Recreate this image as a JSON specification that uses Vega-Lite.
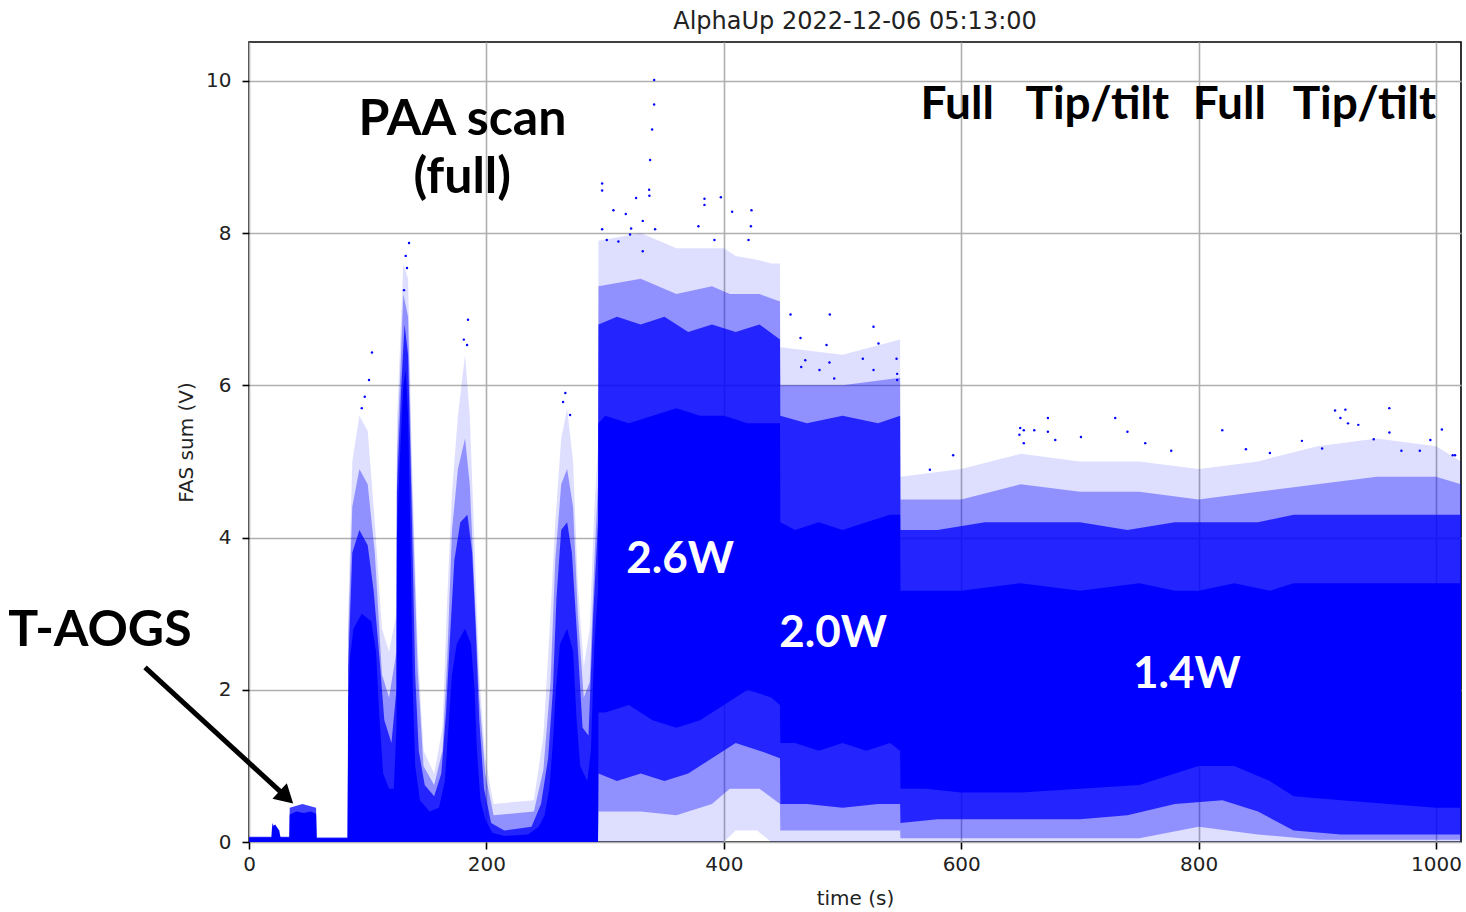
{
  "$schema": "https://vega.github.io/schema/vega-lite/v6.json",
  "width": 1212,
  "height": 800,
  "autosize": {"type": "none"},
  "padding": {"left": 249, "top": 42, "right": 5, "bottom": 70},
  "background": "white",
  "title": {
    "text": "AlphaUp 2022-12-06 05:13:00",
    "font": "DejaVu Sans",
    "fontSize": 24,
    "fontWeight": "normal",
    "color": "#222222",
    "anchor": "middle",
    "baseline": "alphabetic",
    "offset": 13,
    "dy": 24
  },
  "config": {
    "view": {"stroke": "black", "strokeWidth": 1.6},
    "axis": {
      "labelFont": "DejaVu Sans",
      "labelFontSize": 20,
      "labelColor": "#222222",
      "titleFont": "DejaVu Sans",
      "titleFontSize": 20,
      "titleFontWeight": "normal",
      "titleColor": "#222222",
      "gridColor": "#b0b0b0",
      "gridWidth": 1.6,
      "gridOpacity": 1,
      "tickColor": "black",
      "tickWidth": 1.6,
      "tickSize": 7,
      "domain": false,
      "labelFlush": false
    }
  },
  "datasets": {
    "faint": [
      {"t": 83.6, "lo": 0, "hi": 3.0},
      {"t": 87, "lo": 0, "hi": 5.0},
      {"t": 93, "lo": 0, "hi": 5.6},
      {"t": 100, "lo": 0, "hi": 5.4},
      {"t": 106, "lo": 0, "hi": 4.2},
      {"t": 112, "lo": 0, "hi": 2.8},
      {"t": 118, "lo": 0, "hi": 2.5},
      {"t": 124.2, "lo": 0, "hi": 3.0},
      {"t": 124.6, "lo": 0, "hi": 5.5},
      {"t": 130, "lo": 0, "hi": 7.6},
      {"t": 134, "lo": 0, "hi": 7.4},
      {"t": 137, "lo": 0, "hi": 5.2},
      {"t": 142, "lo": 0, "hi": 2.6},
      {"t": 147, "lo": 0, "hi": 1.2},
      {"t": 156, "lo": 0, "hi": 0.9},
      {"t": 163, "lo": 0, "hi": 1.5},
      {"t": 167, "lo": 0, "hi": 3.2},
      {"t": 171, "lo": 0, "hi": 4.6},
      {"t": 176, "lo": 0, "hi": 5.6},
      {"t": 182, "lo": 0, "hi": 6.4},
      {"t": 186, "lo": 0, "hi": 5.6},
      {"t": 190, "lo": 0, "hi": 3.9},
      {"t": 194, "lo": 0, "hi": 2.2},
      {"t": 199, "lo": 0, "hi": 1.1},
      {"t": 206, "lo": 0, "hi": 0.5},
      {"t": 240, "lo": 0, "hi": 0.55},
      {"t": 248, "lo": 0, "hi": 1.4},
      {"t": 254, "lo": 0, "hi": 3.0},
      {"t": 258, "lo": 0, "hi": 4.2},
      {"t": 263, "lo": 0, "hi": 5.3},
      {"t": 268, "lo": 0, "hi": 5.7},
      {"t": 273, "lo": 0, "hi": 5.0},
      {"t": 277, "lo": 0, "hi": 3.4},
      {"t": 282, "lo": 0, "hi": 2.3},
      {"t": 287, "lo": 0, "hi": 2.8},
      {"t": 291, "lo": 0, "hi": 4.4},
      {"t": 294, "lo": 0, "hi": 5.2},
      {"t": 294.4, "lo": 0, "hi": 7.9},
      {"t": 330, "lo": 0, "hi": 8.0},
      {"t": 360, "lo": 0, "hi": 7.8},
      {"t": 400, "lo": 0, "hi": 7.8},
      {"t": 410, "lo": 0.15, "hi": 7.7},
      {"t": 428, "lo": 0.15, "hi": 7.65},
      {"t": 440, "lo": 0, "hi": 7.6},
      {"t": 447.3, "lo": 0, "hi": 7.6},
      {"t": 447.6, "lo": 0, "hi": 6.5},
      {"t": 500, "lo": 0, "hi": 6.4},
      {"t": 548.5, "lo": 0, "hi": 6.6},
      {"t": 548.8, "lo": 0, "hi": 4.8},
      {"t": 600, "lo": 0, "hi": 4.9},
      {"t": 650, "lo": 0, "hi": 5.1},
      {"t": 700, "lo": 0, "hi": 5.0},
      {"t": 750, "lo": 0, "hi": 5.0},
      {"t": 800, "lo": 0, "hi": 4.9},
      {"t": 850, "lo": 0, "hi": 5.0},
      {"t": 900, "lo": 0, "hi": 5.2},
      {"t": 950, "lo": 0, "hi": 5.3},
      {"t": 1000, "lo": 0, "hi": 5.2},
      {"t": 1021, "lo": 0, "hi": 5.0}
    ],
    "mid": [
      {"t": 83.6, "lo": 0, "hi": 2.7},
      {"t": 87, "lo": 0, "hi": 4.4},
      {"t": 93, "lo": 0, "hi": 4.9},
      {"t": 100, "lo": 0, "hi": 4.7},
      {"t": 106, "lo": 0, "hi": 3.8},
      {"t": 112, "lo": 0, "hi": 2.2},
      {"t": 118, "lo": 0, "hi": 1.9},
      {"t": 124.2, "lo": 0, "hi": 2.5},
      {"t": 124.6, "lo": 0, "hi": 5.0},
      {"t": 130, "lo": 0, "hi": 7.2},
      {"t": 134, "lo": 0, "hi": 6.9},
      {"t": 137, "lo": 0, "hi": 4.8},
      {"t": 142, "lo": 0, "hi": 2.3},
      {"t": 147, "lo": 0, "hi": 1.0},
      {"t": 156, "lo": 0, "hi": 0.75},
      {"t": 163, "lo": 0, "hi": 1.2},
      {"t": 167, "lo": 0, "hi": 2.4},
      {"t": 171, "lo": 0, "hi": 4.1},
      {"t": 176, "lo": 0, "hi": 4.9},
      {"t": 182, "lo": 0, "hi": 5.3},
      {"t": 186, "lo": 0, "hi": 4.7},
      {"t": 190, "lo": 0, "hi": 3.3},
      {"t": 194, "lo": 0, "hi": 1.9},
      {"t": 199, "lo": 0, "hi": 0.9},
      {"t": 206, "lo": 0, "hi": 0.35},
      {"t": 240, "lo": 0, "hi": 0.4},
      {"t": 248, "lo": 0, "hi": 0.95},
      {"t": 254, "lo": 0, "hi": 2.1},
      {"t": 258, "lo": 0, "hi": 3.7},
      {"t": 263, "lo": 0, "hi": 4.7},
      {"t": 268, "lo": 0, "hi": 4.9},
      {"t": 273, "lo": 0, "hi": 4.4},
      {"t": 277, "lo": 0, "hi": 3.0},
      {"t": 282, "lo": 0, "hi": 1.9},
      {"t": 287, "lo": 0, "hi": 2.1},
      {"t": 291, "lo": 0, "hi": 3.7},
      {"t": 294, "lo": 0, "hi": 4.7},
      {"t": 294.4, "lo": 0.4, "hi": 7.3},
      {"t": 330, "lo": 0.4, "hi": 7.4},
      {"t": 360, "lo": 0.35, "hi": 7.2},
      {"t": 390, "lo": 0.5, "hi": 7.3},
      {"t": 405, "lo": 0.7, "hi": 7.2},
      {"t": 430, "lo": 0.7, "hi": 7.2},
      {"t": 447.3, "lo": 0.5, "hi": 7.1},
      {"t": 447.6, "lo": 0.15, "hi": 6.0},
      {"t": 500, "lo": 0.15, "hi": 6.0},
      {"t": 548.5, "lo": 0.15, "hi": 6.1},
      {"t": 548.8, "lo": 0.05, "hi": 4.5},
      {"t": 600, "lo": 0.05, "hi": 4.5},
      {"t": 650, "lo": 0.05, "hi": 4.7},
      {"t": 700, "lo": 0.05, "hi": 4.6},
      {"t": 750, "lo": 0.05, "hi": 4.6},
      {"t": 800, "lo": 0.2, "hi": 4.5},
      {"t": 850, "lo": 0.1, "hi": 4.6},
      {"t": 900, "lo": 0.03, "hi": 4.7},
      {"t": 950, "lo": 0.03, "hi": 4.8},
      {"t": 1000, "lo": 0.03, "hi": 4.8},
      {"t": 1021, "lo": 0.03, "hi": 4.7}
    ],
    "dense": [
      {"t": 0, "lo": 0, "hi": 0.07},
      {"t": 19, "lo": 0, "hi": 0.07},
      {"t": 19.5, "lo": 0, "hi": 0.25},
      {"t": 26.5, "lo": 0, "hi": 0.07},
      {"t": 34, "lo": 0, "hi": 0.07},
      {"t": 34.3, "lo": 0, "hi": 0.45},
      {"t": 45, "lo": 0, "hi": 0.5},
      {"t": 56.5, "lo": 0, "hi": 0.45},
      {"t": 57, "lo": 0, "hi": 0.06},
      {"t": 83, "lo": 0, "hi": 0.06},
      {"t": 83.6, "lo": 0, "hi": 2.3},
      {"t": 87, "lo": 0, "hi": 3.8},
      {"t": 93, "lo": 0, "hi": 4.1},
      {"t": 100, "lo": 0, "hi": 3.9},
      {"t": 105, "lo": 0, "hi": 3.3},
      {"t": 110, "lo": 0, "hi": 2.4},
      {"t": 114, "lo": 0, "hi": 1.6},
      {"t": 120, "lo": 0, "hi": 1.3},
      {"t": 124.2, "lo": 0, "hi": 2.0},
      {"t": 124.6, "lo": 0, "hi": 4.6},
      {"t": 128, "lo": 0, "hi": 5.9},
      {"t": 131, "lo": 0, "hi": 6.8},
      {"t": 134, "lo": 0, "hi": 6.4},
      {"t": 137, "lo": 0, "hi": 4.4},
      {"t": 140, "lo": 0, "hi": 2.2},
      {"t": 143, "lo": 0, "hi": 1.2},
      {"t": 148, "lo": 0, "hi": 0.75},
      {"t": 156, "lo": 0, "hi": 0.6},
      {"t": 162, "lo": 0, "hi": 0.9},
      {"t": 166, "lo": 0, "hi": 1.7},
      {"t": 169, "lo": 0, "hi": 2.6},
      {"t": 173, "lo": 0, "hi": 3.7},
      {"t": 178, "lo": 0, "hi": 4.2},
      {"t": 184, "lo": 0, "hi": 4.3},
      {"t": 188, "lo": 0, "hi": 3.8},
      {"t": 191, "lo": 0, "hi": 2.8},
      {"t": 194, "lo": 0, "hi": 1.6},
      {"t": 198, "lo": 0, "hi": 0.7},
      {"t": 204, "lo": 0, "hi": 0.25},
      {"t": 215, "lo": 0, "hi": 0.15},
      {"t": 238, "lo": 0, "hi": 0.2},
      {"t": 246, "lo": 0, "hi": 0.5},
      {"t": 252, "lo": 0, "hi": 1.1},
      {"t": 256, "lo": 0, "hi": 2.0},
      {"t": 259, "lo": 0, "hi": 3.2},
      {"t": 263, "lo": 0, "hi": 4.1},
      {"t": 268, "lo": 0, "hi": 4.2},
      {"t": 272, "lo": 0, "hi": 3.8},
      {"t": 276, "lo": 0, "hi": 2.8},
      {"t": 281, "lo": 0, "hi": 1.5},
      {"t": 286, "lo": 0, "hi": 1.4},
      {"t": 290, "lo": 0, "hi": 3.0},
      {"t": 294, "lo": 0, "hi": 4.2},
      {"t": 294.4, "lo": 0.9, "hi": 6.8},
      {"t": 310, "lo": 0.8, "hi": 6.9},
      {"t": 330, "lo": 0.9, "hi": 6.8},
      {"t": 350, "lo": 0.8, "hi": 6.9},
      {"t": 370, "lo": 0.9, "hi": 6.7},
      {"t": 390, "lo": 1.1, "hi": 6.8},
      {"t": 410, "lo": 1.3, "hi": 6.7},
      {"t": 430, "lo": 1.2, "hi": 6.8},
      {"t": 447.3, "lo": 1.1, "hi": 6.6},
      {"t": 447.6, "lo": 0.5, "hi": 5.6},
      {"t": 470, "lo": 0.5, "hi": 5.5},
      {"t": 500, "lo": 0.45, "hi": 5.6},
      {"t": 530, "lo": 0.5, "hi": 5.5},
      {"t": 548.5, "lo": 0.5, "hi": 5.6},
      {"t": 548.8, "lo": 0.25, "hi": 4.1},
      {"t": 580, "lo": 0.3, "hi": 4.1},
      {"t": 620, "lo": 0.3, "hi": 4.2},
      {"t": 660, "lo": 0.3, "hi": 4.2},
      {"t": 700, "lo": 0.3, "hi": 4.2},
      {"t": 740, "lo": 0.35, "hi": 4.1},
      {"t": 780, "lo": 0.5, "hi": 4.2},
      {"t": 820, "lo": 0.55, "hi": 4.2},
      {"t": 850, "lo": 0.4, "hi": 4.2},
      {"t": 880, "lo": 0.15, "hi": 4.3},
      {"t": 920, "lo": 0.1, "hi": 4.3},
      {"t": 960, "lo": 0.1, "hi": 4.3},
      {"t": 1000, "lo": 0.1, "hi": 4.3},
      {"t": 1021, "lo": 0.1, "hi": 4.3}
    ],
    "core": [
      {"t": 0, "lo": 0, "hi": 0.06},
      {"t": 19, "lo": 0, "hi": 0.06},
      {"t": 19.5, "lo": 0, "hi": 0.2},
      {"t": 22, "lo": 0, "hi": 0.23},
      {"t": 25.5, "lo": 0, "hi": 0.15},
      {"t": 26.5, "lo": 0, "hi": 0.06},
      {"t": 34, "lo": 0, "hi": 0.06},
      {"t": 34.3, "lo": 0, "hi": 0.36},
      {"t": 40, "lo": 0, "hi": 0.4},
      {"t": 46, "lo": 0, "hi": 0.38},
      {"t": 52, "lo": 0, "hi": 0.4},
      {"t": 56.5, "lo": 0, "hi": 0.37},
      {"t": 57, "lo": 0, "hi": 0.05},
      {"t": 83, "lo": 0, "hi": 0.05},
      {"t": 83.7, "lo": 0, "hi": 1.8},
      {"t": 85, "lo": 0, "hi": 2.4},
      {"t": 88, "lo": 0, "hi": 2.8},
      {"t": 95, "lo": 0, "hi": 3.0},
      {"t": 103, "lo": 0, "hi": 2.9},
      {"t": 107, "lo": 0, "hi": 2.5},
      {"t": 110, "lo": 0, "hi": 1.6},
      {"t": 113, "lo": 0, "hi": 0.9},
      {"t": 118, "lo": 0, "hi": 0.7},
      {"t": 122, "lo": 0, "hi": 0.7},
      {"t": 124.2, "lo": 0, "hi": 1.5},
      {"t": 124.6, "lo": 0, "hi": 4.0},
      {"t": 127, "lo": 0, "hi": 5.0},
      {"t": 130, "lo": 0, "hi": 6.0},
      {"t": 132, "lo": 0, "hi": 6.2},
      {"t": 134, "lo": 0, "hi": 5.6},
      {"t": 136, "lo": 0, "hi": 4.0},
      {"t": 138, "lo": 0, "hi": 2.0},
      {"t": 140, "lo": 0, "hi": 1.0},
      {"t": 144, "lo": 0, "hi": 0.55},
      {"t": 152, "lo": 0, "hi": 0.4},
      {"t": 160, "lo": 0, "hi": 0.45},
      {"t": 165, "lo": 0, "hi": 0.8},
      {"t": 168, "lo": 0, "hi": 1.5},
      {"t": 171, "lo": 0, "hi": 2.2},
      {"t": 175, "lo": 0, "hi": 2.6},
      {"t": 182, "lo": 0, "hi": 2.8},
      {"t": 187, "lo": 0, "hi": 2.6},
      {"t": 190, "lo": 0, "hi": 2.0},
      {"t": 192, "lo": 0, "hi": 1.2},
      {"t": 195, "lo": 0, "hi": 0.55},
      {"t": 199, "lo": 0, "hi": 0.3},
      {"t": 205, "lo": 0, "hi": 0.12},
      {"t": 215, "lo": 0, "hi": 0.08},
      {"t": 235, "lo": 0, "hi": 0.1},
      {"t": 244, "lo": 0, "hi": 0.2},
      {"t": 249, "lo": 0, "hi": 0.35},
      {"t": 253, "lo": 0, "hi": 0.7},
      {"t": 256, "lo": 0, "hi": 1.3},
      {"t": 258.5, "lo": 0, "hi": 2.0},
      {"t": 262, "lo": 0, "hi": 2.6},
      {"t": 268, "lo": 0, "hi": 2.8},
      {"t": 273, "lo": 0, "hi": 2.5},
      {"t": 276, "lo": 0, "hi": 1.6},
      {"t": 279, "lo": 0, "hi": 1.0},
      {"t": 285, "lo": 0, "hi": 0.8},
      {"t": 288, "lo": 0, "hi": 1.2},
      {"t": 291, "lo": 0, "hi": 2.6},
      {"t": 294, "lo": 0, "hi": 3.3},
      {"t": 294.4, "lo": 1.7, "hi": 5.5},
      {"t": 300, "lo": 1.7, "hi": 5.6},
      {"t": 320, "lo": 1.8, "hi": 5.5},
      {"t": 340, "lo": 1.6, "hi": 5.6},
      {"t": 360, "lo": 1.5, "hi": 5.7},
      {"t": 380, "lo": 1.6, "hi": 5.6},
      {"t": 400, "lo": 1.8, "hi": 5.6},
      {"t": 420, "lo": 2.0, "hi": 5.5},
      {"t": 440, "lo": 1.9, "hi": 5.5},
      {"t": 447.3, "lo": 1.8, "hi": 5.5},
      {"t": 447.6, "lo": 1.3, "hi": 4.2},
      {"t": 460, "lo": 1.3, "hi": 4.1},
      {"t": 480, "lo": 1.2, "hi": 4.2},
      {"t": 500, "lo": 1.3, "hi": 4.1},
      {"t": 520, "lo": 1.2, "hi": 4.2},
      {"t": 540, "lo": 1.3, "hi": 4.3},
      {"t": 548.5, "lo": 1.2, "hi": 4.3},
      {"t": 548.8, "lo": 0.7, "hi": 3.3},
      {"t": 570, "lo": 0.7, "hi": 3.3},
      {"t": 600, "lo": 0.65, "hi": 3.3},
      {"t": 650, "lo": 0.65, "hi": 3.4},
      {"t": 700, "lo": 0.7, "hi": 3.3},
      {"t": 750, "lo": 0.75, "hi": 3.4},
      {"t": 780, "lo": 0.9, "hi": 3.3},
      {"t": 800, "lo": 1.0, "hi": 3.3},
      {"t": 830, "lo": 1.0, "hi": 3.4},
      {"t": 860, "lo": 0.8, "hi": 3.3},
      {"t": 880, "lo": 0.6, "hi": 3.4},
      {"t": 920, "lo": 0.55, "hi": 3.4},
      {"t": 960, "lo": 0.5, "hi": 3.4},
      {"t": 1000, "lo": 0.45, "hi": 3.4},
      {"t": 1021, "lo": 0.45, "hi": 3.4}
    ],
    "dots": [
      {"t": 341.3, "v": 10.01},
      {"t": 341.3, "v": 9.69},
      {"t": 339.6, "v": 9.36},
      {"t": 337.9, "v": 8.96},
      {"t": 337.1, "v": 8.57},
      {"t": 337.3, "v": 8.49},
      {"t": 297.5, "v": 8.65},
      {"t": 297.5, "v": 8.56},
      {"t": 326.1, "v": 8.46},
      {"t": 307.0, "v": 8.3},
      {"t": 317.4, "v": 8.25},
      {"t": 331.7, "v": 8.16},
      {"t": 383.7, "v": 8.45},
      {"t": 383.7, "v": 8.37},
      {"t": 397.5, "v": 8.47},
      {"t": 407.0, "v": 8.28},
      {"t": 423.3, "v": 8.3},
      {"t": 422.8, "v": 8.09},
      {"t": 297.5, "v": 8.05},
      {"t": 321.9, "v": 8.06},
      {"t": 342.1, "v": 8.05},
      {"t": 378.6, "v": 8.09},
      {"t": 301.4, "v": 7.91},
      {"t": 321.0, "v": 7.98},
      {"t": 392.1, "v": 7.91},
      {"t": 420.8, "v": 7.91},
      {"t": 311.2, "v": 7.89},
      {"t": 331.7, "v": 7.76},
      {"t": 134.8, "v": 7.87},
      {"t": 133.1, "v": 7.54},
      {"t": 130.6, "v": 7.25},
      {"t": 132.0, "v": 7.7},
      {"t": 103.6, "v": 6.43},
      {"t": 101.1, "v": 6.07},
      {"t": 97.5, "v": 5.85},
      {"t": 95.0, "v": 5.7},
      {"t": 184.5, "v": 6.86},
      {"t": 183.7, "v": 6.53},
      {"t": 181.0, "v": 6.6},
      {"t": 264.6, "v": 5.78},
      {"t": 270.5, "v": 5.61},
      {"t": 266.5, "v": 5.9},
      {"t": 456.2, "v": 6.93},
      {"t": 489.3, "v": 6.93},
      {"t": 526.1, "v": 6.77},
      {"t": 530.3, "v": 6.55},
      {"t": 464.6, "v": 6.62},
      {"t": 486.5, "v": 6.53},
      {"t": 517.1, "v": 6.35},
      {"t": 545.5, "v": 6.35},
      {"t": 465.2, "v": 6.24},
      {"t": 480.6, "v": 6.2},
      {"t": 489.0, "v": 6.3},
      {"t": 493.0, "v": 6.09},
      {"t": 526.1, "v": 6.2},
      {"t": 468.6, "v": 6.33},
      {"t": 546.0, "v": 6.07},
      {"t": 546.0, "v": 6.15},
      {"t": 649.7, "v": 5.44},
      {"t": 679.2, "v": 5.28},
      {"t": 729.7, "v": 5.57},
      {"t": 819.9, "v": 5.41},
      {"t": 923.6, "v": 5.68},
      {"t": 960.6, "v": 5.7},
      {"t": 934.5, "v": 5.48},
      {"t": 995.2, "v": 5.28},
      {"t": 1016.0, "v": 5.08},
      {"t": 673.0, "v": 5.57},
      {"t": 740.0, "v": 5.39},
      {"t": 652.7, "v": 5.41},
      {"t": 649.0, "v": 5.35},
      {"t": 700.8, "v": 5.32},
      {"t": 755.0, "v": 5.24},
      {"t": 776.9, "v": 5.14},
      {"t": 914.9, "v": 5.67},
      {"t": 919.4, "v": 5.57},
      {"t": 925.8, "v": 5.5},
      {"t": 960.7, "v": 5.38},
      {"t": 1004.9, "v": 5.42},
      {"t": 887.0, "v": 5.27},
      {"t": 860.0, "v": 5.11},
      {"t": 839.8, "v": 5.16},
      {"t": 904.0, "v": 5.17},
      {"t": 986.3, "v": 5.14},
      {"t": 1014.0, "v": 5.08},
      {"t": 593.2, "v": 5.08},
      {"t": 573.6, "v": 4.89},
      {"t": 673.0, "v": 5.39},
      {"t": 652.7, "v": 5.24},
      {"t": 661.5, "v": 5.41},
      {"t": 947.5, "v": 5.29},
      {"t": 970.8, "v": 5.14}
    ],
    "arrow": [
      {"t": -87.6, "v": 2.295, "t2": 31.5, "v2": 0.589}
    ],
    "arrowhead": [
      {"t": 31.5, "v": 0.589}
    ],
    "notes": [
      {"t": 179.8, "v": 9.29, "label": "PAA scan"},
      {"t": 179.6, "v": 8.53, "label": "(full)"},
      {"t": -125.6, "v": 2.57, "label": "T-AOGS"}
    ],
    "modes": [
      {"t": 596.6, "v": 9.5, "label": "Full"},
      {"t": 714.6, "v": 9.5, "label": "Tip/tilt"},
      {"t": 825.8, "v": 9.5, "label": "Full"},
      {"t": 939.6, "v": 9.5, "label": "Tip/tilt"}
    ],
    "powers": [
      {"t": 363.2, "v": 3.54, "label": "2.6W"},
      {"t": 492.1, "v": 2.56, "label": "2.0W"},
      {"t": 790.0, "v": 2.02, "label": "1.4W"}
    ]
  },
  "layer": [
    {
      "data": {"name": "faint"},
      "mark": {"type": "area", "color": "#0000ff", "opacity": 0.13, "interpolate": "linear"},
      "encoding": {
        "x": {
          "field": "t", "type": "quantitative",
          "scale": {"domain": [0, 1021], "nice": false, "zero": false},
          "axis": {"values": [0, 200, 400, 600, 800, 1000], "format": "d", "title": "time (s)", "labelPadding": 5, "titlePadding": 14}
        },
        "y": {
          "field": "lo", "type": "quantitative",
          "scale": {"domain": [0, 10.51], "nice": false, "zero": false},
          "axis": {"values": [0, 2, 4, 6, 8, 10], "format": "d", "title": "FAS sum (V)", "labelPadding": 11, "titlePadding": 9}
        },
        "y2": {"field": "hi"}
      }
    },
    {
      "data": {"name": "mid"},
      "mark": {"type": "area", "color": "#0000ff", "opacity": 0.35, "interpolate": "linear"},
      "encoding": {
        "x": {"field": "t", "type": "quantitative", "title": "time (s)"},
        "y": {"field": "lo", "type": "quantitative", "title": "FAS sum (V)"},
        "y2": {"field": "hi"}
      }
    },
    {
      "data": {"name": "dense"},
      "mark": {"type": "area", "color": "#0000ff", "opacity": 0.75, "interpolate": "linear"},
      "encoding": {
        "x": {"field": "t", "type": "quantitative", "title": "time (s)"},
        "y": {"field": "lo", "type": "quantitative", "title": "FAS sum (V)"},
        "y2": {"field": "hi"}
      }
    },
    {
      "data": {"name": "core"},
      "mark": {"type": "area", "color": "#0000ff", "opacity": 1, "interpolate": "linear"},
      "encoding": {
        "x": {"field": "t", "type": "quantitative", "title": "time (s)"},
        "y": {"field": "lo", "type": "quantitative", "title": "FAS sum (V)"},
        "y2": {"field": "hi"}
      }
    },
    {
      "data": {"name": "dots"},
      "mark": {"type": "circle", "color": "#0000ff", "size": 6, "opacity": 1},
      "encoding": {
        "x": {"field": "t", "type": "quantitative", "title": "time (s)"},
        "y": {"field": "v", "type": "quantitative", "title": "FAS sum (V)"}
      }
    },
    {
      "data": {"name": "arrow"},
      "mark": {"type": "rule", "color": "black", "strokeWidth": 5},
      "encoding": {
        "x": {"field": "t", "type": "quantitative", "title": "time (s)"},
        "y": {"field": "v", "type": "quantitative", "title": "FAS sum (V)"},
        "x2": {"field": "t2"},
        "y2": {"field": "v2"}
      }
    },
    {
      "data": {"name": "arrowhead"},
      "mark": {"type": "point", "shape": "triangle-right", "filled": true, "color": "black", "opacity": 1, "size": 450, "angle": 42.6},
      "encoding": {
        "x": {"field": "t", "type": "quantitative", "title": "time (s)"},
        "y": {"field": "v", "type": "quantitative", "title": "FAS sum (V)"}
      }
    },
    {
      "data": {"name": "notes"},
      "mark": {"type": "text", "font": "Lato", "fontWeight": "bold", "fontSize": 50, "color": "black", "align": "center", "baseline": "alphabetic"},
      "encoding": {
        "x": {"field": "t", "type": "quantitative", "title": "time (s)"},
        "y": {"field": "v", "type": "quantitative", "title": "FAS sum (V)"},
        "text": {"field": "label"}
      }
    },
    {
      "data": {"name": "modes"},
      "mark": {"type": "text", "font": "Lato", "fontWeight": "bold", "fontSize": 46, "color": "black", "align": "center", "baseline": "alphabetic"},
      "encoding": {
        "x": {"field": "t", "type": "quantitative", "title": "time (s)"},
        "y": {"field": "v", "type": "quantitative", "title": "FAS sum (V)"},
        "text": {"field": "label"}
      }
    },
    {
      "data": {"name": "powers"},
      "mark": {"type": "text", "font": "Lato", "fontWeight": "bold", "fontSize": 44, "color": "white", "align": "center", "baseline": "alphabetic"},
      "encoding": {
        "x": {"field": "t", "type": "quantitative", "title": "time (s)"},
        "y": {"field": "v", "type": "quantitative", "title": "FAS sum (V)"},
        "text": {"field": "label"}
      }
    }
  ]
}
